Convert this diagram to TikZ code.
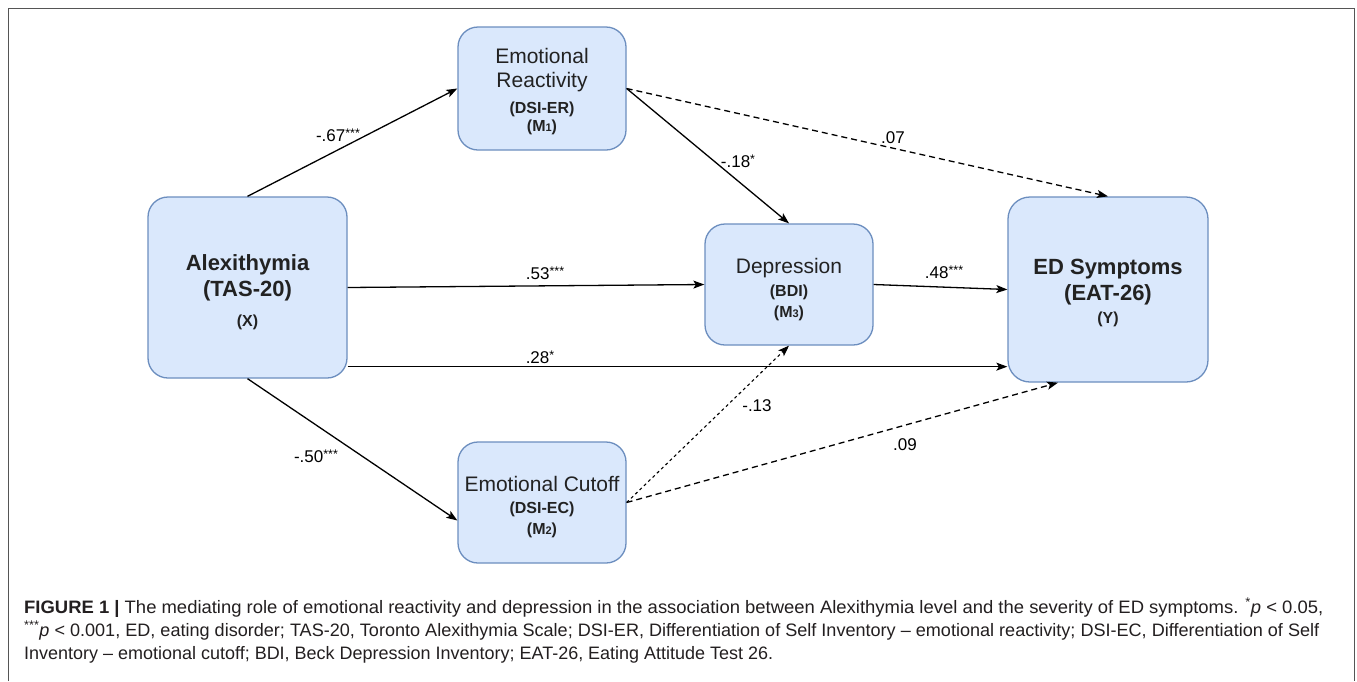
\documentclass[tikz,border=0pt]{standalone}
\usepackage{graphicx}
\usepackage{fontspec}
\setmainfont{Liberation Sans}
\usetikzlibrary{arrows.meta,calc}
\definecolor{boxfill}{HTML}{DAE8FC}
\definecolor{boxline}{HTML}{6C8EBF}
\definecolor{txtc}{HTML}{222222}
\definecolor{framec}{HTML}{555555}
\definecolor{capc}{HTML}{231F20}
\newcommand{\fsz}[1]{\fontsize{#1}{#1}\selectfont}
\newcommand{\sstars}[1]{\raisebox{3.5pt}{\fsz{12.5}#1}}
\begin{document}
\begin{tikzpicture}[x=1pt,y=-1pt,
  box/.style={draw=boxline,fill=boxfill,line width=1.3pt,rounded corners=20pt,inner sep=0pt},
  lbl/.style={inner sep=0pt,text=txtc,anchor=base},
  arr/.style={-{Stealth[length=11pt,width=8pt,inset=2.5pt]},line width=1.3pt},
  dasharr/.style={arr,dash pattern=on 6pt off 4pt},
  dotarr/.style={arr,line width=1.1pt,dash pattern=on 3pt off 3pt},
  coef/.style={inner sep=0pt,anchor=base,font=\fsz{17}},
  captext/.style={inner sep=0pt,anchor=base west,text=capc,font=\fsz{18}}]
\useasboundingbox (0,0) rectangle (1357,681);
\fill[white] (0,0) rectangle (1357,681);
\draw[framec,line width=1.5pt] (8.5,681) -- (8.5,8.5) -- (1354.5,8.5) -- (1354.5,681);

% boxes
\node[box,minimum width=199pt,minimum height=181pt] (X) at (247.5,287.5) {};
\node[box,minimum width=168pt,minimum height=123pt] (M1) at (542,88.5) {};
\node[box,minimum width=168pt,minimum height=121pt] (M3) at (789,284.5) {};
\node[box,minimum width=200pt,minimum height=185pt,rounded corners=22pt] (Y) at (1108,289.5) {};
\node[box,minimum width=168pt,minimum height=121pt] (M2) at (542,502.5) {};

% box texts
\node[lbl,font=\fsz{22}\bfseries] (x1) at (247.5,270) {Alexithymia};
\node[lbl,font=\fsz{22}\bfseries] (x2) at (247.5,296) {(TAS-20)};
\node[lbl,font=\fsz{16}\bfseries] (x3) at (247.5,326) {(X)};

\node[lbl,font=\fsz{21}] (m11) at (542,63) {Emotional};
\node[lbl,font=\fsz{21}] (m12) at (542,87) {Reactivity};
\node[lbl,font=\fsz{16}\bfseries] (m13) at (542,113) {(DSI-ER)};
\node[lbl,font=\fsz{16}\bfseries] (m14) at (542,131) {(M{\fsz{11}1})};

\node[lbl,font=\fsz{21}] (m31) at (789,273) {Depression};
\node[lbl,font=\fsz{16}\bfseries] (m32) at (789,296) {(BDI)};
\node[lbl,font=\fsz{16}\bfseries] (m33) at (789,317) {(M{\fsz{11}3})};

\node[lbl,font=\fsz{22}\bfseries] (y1) at (1108,274) {ED Symptoms};
\node[lbl,font=\fsz{22}\bfseries] (y2) at (1108,300) {(EAT-26)};
\node[lbl,font=\fsz{16}\bfseries] (y3) at (1108,323) {(Y)};

\node[lbl,font=\fsz{21}] (m21) at (542,491) {Emotional Cutoff};
\node[lbl,font=\fsz{16}\bfseries] (m22) at (542,513) {(DSI-EC)};
\node[lbl,font=\fsz{16}\bfseries] (m23) at (542,534) {(M{\fsz{11}2})};

% connectors
\coordinate (xlow) at ([yshift=12pt]X.south east);
\draw[arr] (X.north) -- (M1.west);
\draw[arr] (X.east) -- (M3.west);
\draw[arr] (xlow) -- (xlow -| Y.west);
\draw[arr] (X.south) -- ([yshift=-18pt]M2.west);
\draw[arr] (M1.east) -- (M3.north);
\draw[dasharr] (M1.east) -- (Y.north);
\draw[arr] (M3.east) -- (Y.west);
\draw[dotarr] (M2.east) -- (M3.south);
\draw[dasharr] (M2.east) -- ([xshift=-50pt]Y.south);

% coefficients
\node[coef] (c1) at (338,141) {-.67\sstars{***}};
\node[coef] (c2) at (316,462) {-.50\sstars{***}};
\node[coef] (c3) at (545,279) {.53\sstars{***}};
\node[coef] (c4) at (540,363) {.28\sstars{*}};
\node[coef] (c5) at (738,167) {-.18\sstars{*}};
\node[coef] (c6) at (893,143) {.07};
\node[coef] (c7) at (944,278) {.48\sstars{***}};
\node[coef] (c8) at (757,411) {-.13};
\node[coef] (c9) at (905,450) {.09};

% caption
\node[captext] (cap1) at (24,613) {\resizebox{1299pt}{\height}{\textbf{FIGURE 1 |} The mediating role of emotional reactivity and depression in the association between Alexithymia level and the severity of ED symptoms. \textsuperscript{*}\textit{p} < 0.05,}};
\node[captext] (cap2) at (24,636) {\resizebox{1295pt}{\height}{\textsuperscript{***}\textit{p} < 0.001, ED, eating disorder; TAS-20, Toronto Alexithymia Scale; DSI-ER, Differentiation of Self Inventory – emotional reactivity; DSI-EC, Differentiation of Self}};
\node[captext] (cap3) at (24,659) {\resizebox{749pt}{\height}{Inventory – emotional cutoff; BDI, Beck Depression Inventory; EAT-26, Eating Attitude Test 26.}};
\end{tikzpicture}
\end{document}
